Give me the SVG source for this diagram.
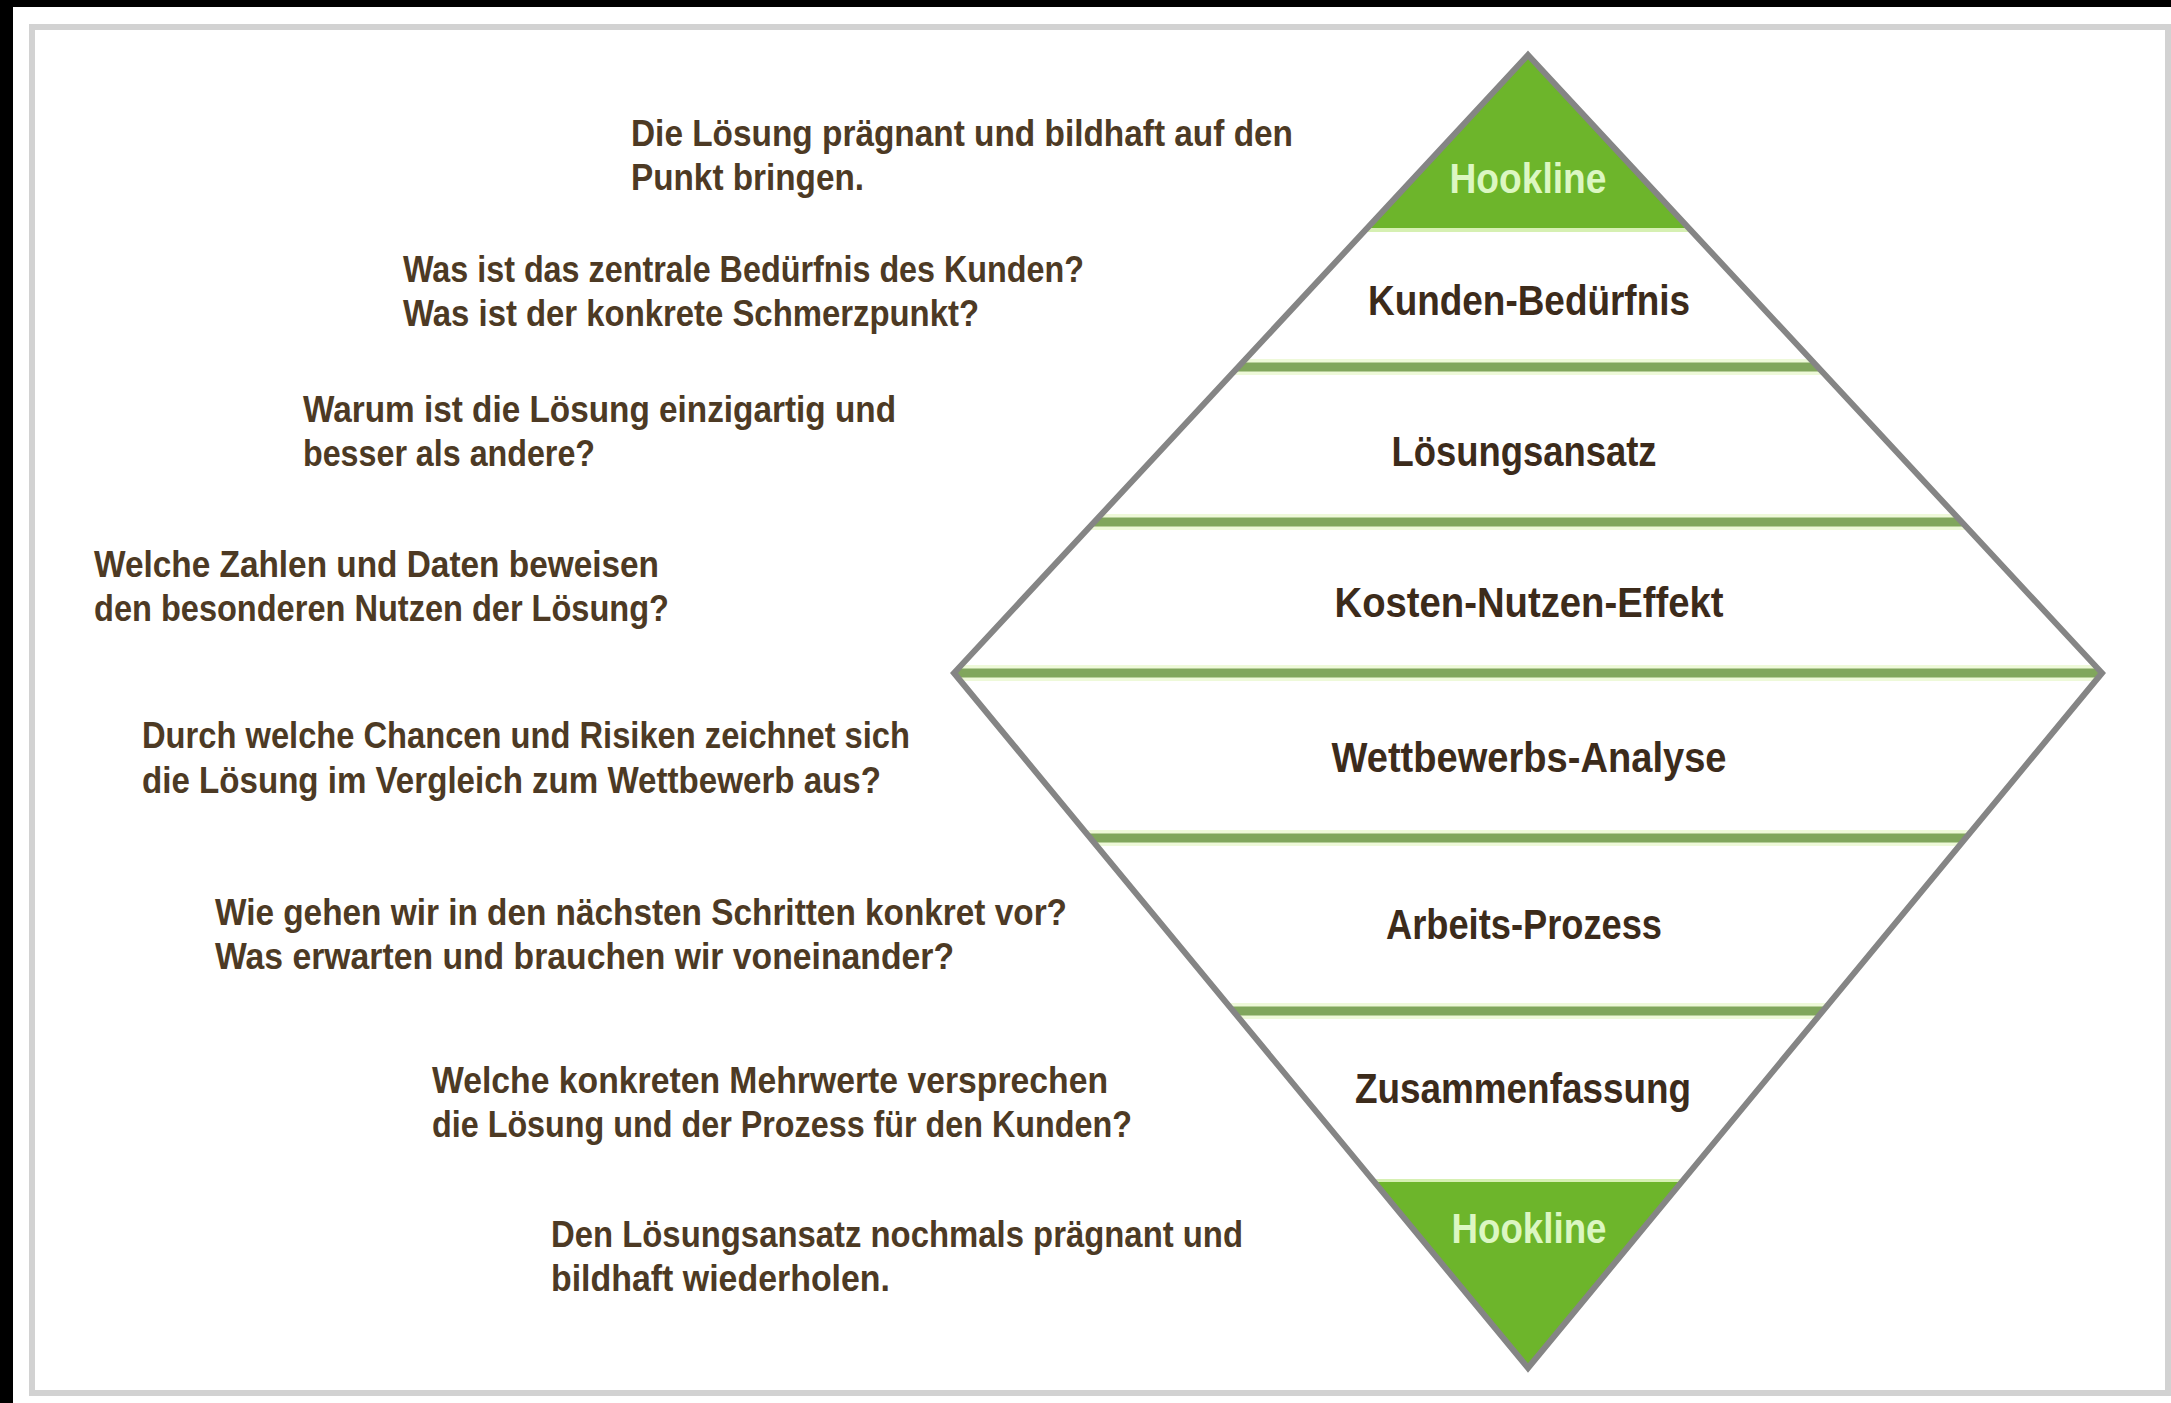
<svg xmlns="http://www.w3.org/2000/svg" width="2171" height="1403" viewBox="0 0 2171 1403">
  <defs>
    <style>
      .q { font-family: "Liberation Sans", Arial, sans-serif; font-weight: bold; font-size: 37px; fill: #4d3a24; }
      .lbl { font-family: "Liberation Sans", Arial, sans-serif; font-weight: bold; font-size: 42px; fill: #3c2b1b; text-anchor: middle; }
      .hook { font-family: "Liberation Sans", Arial, sans-serif; font-weight: bold; font-size: 42px; fill: #dcf7c2; text-anchor: middle; }
      .sep-glow { stroke: #eef9d9; stroke-width: 16; }
      .sep { stroke: #80a65c; stroke-width: 9; }
      .band { fill: #6db52b; }
      .edge { fill: none; stroke: #858585; stroke-width: 6; stroke-linejoin: miter; }
    </style>
    <clipPath id="diamondClip">
      <polygon points="1528,55 2102,673 1528,1368 954,673"/>
    </clipPath>
  </defs>

  <!-- page background and frame -->
  <rect x="0" y="0" width="2171" height="1403" fill="#ffffff"/>
  <rect x="0" y="0" width="2171" height="7" fill="#000000"/>
  <rect x="0" y="0" width="13" height="1403" fill="#000000"/>
  <rect x="32" y="27" width="2136" height="1366" fill="none" stroke="#d2d2d2" stroke-width="6"/>

  <!-- pitch diamond: bands -->
  <g clip-path="url(#diamondClip)">
    <g id="band-hookline-top">
      <rect class="band" x="900" y="0" width="1300" height="229"/>
      <rect x="900" y="228" width="1300" height="4" fill="#d6f0b2"/>
    </g>
    <g id="band-hookline-bottom">
      <rect x="900" y="1179" width="1300" height="4" fill="#d6f0b2"/>
      <rect class="band" x="900" y="1182" width="1300" height="230"/>
    </g>
    <g id="dividers">
      <line class="sep-glow" x1="900" y1="367" x2="2200" y2="367"/>
      <line class="sep" x1="900" y1="367" x2="2200" y2="367"/>
      <line class="sep-glow" x1="900" y1="522" x2="2200" y2="522"/>
      <line class="sep" x1="900" y1="522" x2="2200" y2="522"/>
      <line class="sep-glow" x1="900" y1="673" x2="2200" y2="673"/>
      <line class="sep" x1="900" y1="673" x2="2200" y2="673"/>
      <line class="sep-glow" x1="900" y1="838" x2="2200" y2="838"/>
      <line class="sep" x1="900" y1="838" x2="2200" y2="838"/>
      <line class="sep-glow" x1="900" y1="1011" x2="2200" y2="1011"/>
      <line class="sep" x1="900" y1="1011" x2="2200" y2="1011"/>
    </g>
  </g>
  <polygon class="edge" points="1528,55 2102,673 1528,1368 954,673"/>

  <!-- band labels -->
  <g id="node-hookline-top"><text class="hook" x="1528" y="193" textLength="157" lengthAdjust="spacingAndGlyphs">Hookline</text></g>
  <g id="node-kunden"><text class="lbl" x="1529" y="315" textLength="322" lengthAdjust="spacingAndGlyphs">Kunden-Bedürfnis</text></g>
  <g id="node-loesung"><text class="lbl" x="1524" y="466" textLength="265" lengthAdjust="spacingAndGlyphs">Lösungsansatz</text></g>
  <g id="node-kosten"><text class="lbl" x="1529" y="617" textLength="389" lengthAdjust="spacingAndGlyphs">Kosten-Nutzen-Effekt</text></g>
  <g id="node-wettbewerb"><text class="lbl" x="1529" y="772" textLength="395" lengthAdjust="spacingAndGlyphs">Wettbewerbs-Analyse</text></g>
  <g id="node-arbeit"><text class="lbl" x="1524" y="939" textLength="276" lengthAdjust="spacingAndGlyphs">Arbeits-Prozess</text></g>
  <g id="node-zusammen"><text class="lbl" x="1523" y="1103" textLength="336" lengthAdjust="spacingAndGlyphs">Zusammenfassung</text></g>
  <g id="node-hookline-bottom"><text class="hook" x="1529" y="1243" textLength="155" lengthAdjust="spacingAndGlyphs">Hookline</text></g>

  <!-- guiding questions -->
  <g id="q-hookline-top">
    <text class="q" x="631" y="146" textLength="662" lengthAdjust="spacingAndGlyphs">Die Lösung prägnant und bildhaft auf den</text>
    <text class="q" x="631" y="190" textLength="233" lengthAdjust="spacingAndGlyphs">Punkt bringen.</text>
  </g>
  <g id="q-kunden">
    <text class="q" x="403" y="282" textLength="681" lengthAdjust="spacingAndGlyphs">Was ist das zentrale Bedürfnis des Kunden?</text>
    <text class="q" x="403" y="326" textLength="576" lengthAdjust="spacingAndGlyphs">Was ist der konkrete Schmerzpunkt?</text>
  </g>
  <g id="q-loesung">
    <text class="q" x="303" y="422" textLength="593" lengthAdjust="spacingAndGlyphs">Warum ist die Lösung einzigartig und</text>
    <text class="q" x="303" y="466" textLength="292" lengthAdjust="spacingAndGlyphs">besser als andere?</text>
  </g>
  <g id="q-kosten">
    <text class="q" x="94" y="577" textLength="565" lengthAdjust="spacingAndGlyphs">Welche Zahlen und Daten beweisen</text>
    <text class="q" x="94" y="621" textLength="575" lengthAdjust="spacingAndGlyphs">den besonderen Nutzen der Lösung?</text>
  </g>
  <g id="q-wettbewerb">
    <text class="q" x="142" y="748" textLength="768" lengthAdjust="spacingAndGlyphs">Durch welche Chancen und Risiken zeichnet sich</text>
    <text class="q" x="142" y="793" textLength="739" lengthAdjust="spacingAndGlyphs">die Lösung im Vergleich zum Wettbewerb aus?</text>
  </g>
  <g id="q-arbeit">
    <text class="q" x="215" y="925" textLength="852" lengthAdjust="spacingAndGlyphs">Wie gehen wir in den nächsten Schritten konkret vor?</text>
    <text class="q" x="215" y="969" textLength="739" lengthAdjust="spacingAndGlyphs">Was erwarten und brauchen wir voneinander?</text>
  </g>
  <g id="q-zusammen">
    <text class="q" x="432" y="1093" textLength="676" lengthAdjust="spacingAndGlyphs">Welche konkreten Mehrwerte versprechen</text>
    <text class="q" x="432" y="1137" textLength="700" lengthAdjust="spacingAndGlyphs">die Lösung und der Prozess für den Kunden?</text>
  </g>
  <g id="q-hookline-bottom">
    <text class="q" x="551" y="1247" textLength="692" lengthAdjust="spacingAndGlyphs">Den Lösungsansatz nochmals prägnant und</text>
    <text class="q" x="551" y="1291" textLength="339" lengthAdjust="spacingAndGlyphs">bildhaft wiederholen.</text>
  </g>
</svg>
